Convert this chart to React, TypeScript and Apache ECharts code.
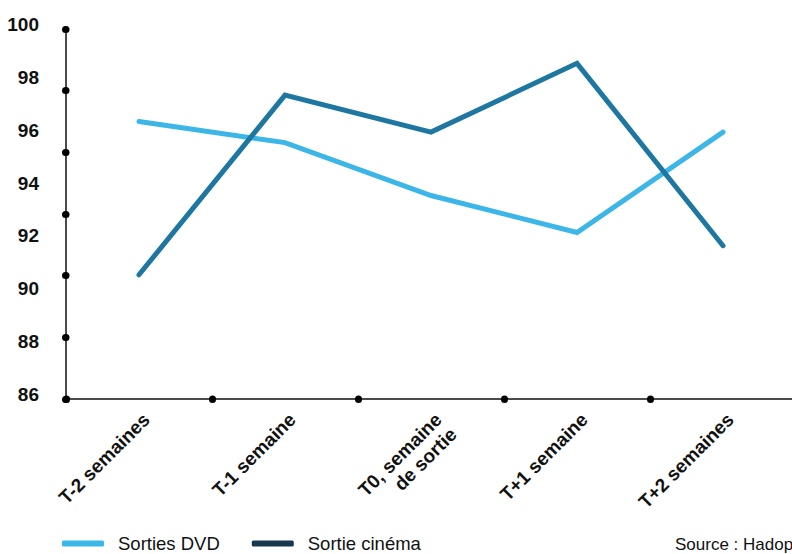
import React, { useEffect, useRef } from "react";
import * as echarts from "echarts";

const categories = ["T-2 semaines", "T-1 semaine", "T0, semaine\nde sortie", "T+1 semaine", "T+2 semaines"];
const dvdValues = [96.5, 95.7, 93.7, 92.3, 96.1];
const cinemaValues = [90.7, 97.5, 96.1, 98.7, 91.8];
const seriesNames = ["Sorties DVD", "Sortie cinéma"];
const sourceText = "Source : Hadopi";

const SANS = "'Liberation Sans', Arial, sans-serif";

export default function App() {
  const ref = useRef<HTMLDivElement>(null);
  useEffect(() => {
    if (!ref.current) return;
    const chart = echarts.init(ref.current, null, { renderer: "svg" });
    const dotTick = { show: true, length: 0.5, lineStyle: { color: "#000", width: 7, cap: "round" } };
    chart.setOption({
      animation: false,
      backgroundColor: "#fff",
      grid: { left: 66, top: 29, width: 730, bottom: 155, containLabel: false, outerBoundsMode: "none" },
      xAxis: {
        type: "category",
        data: categories,
        boundaryGap: true,
        axisLine: { show: true, lineStyle: { color: "#4a4a4a", width: 2 } },
        axisTick: { ...dotTick, interval: 0, alignWithLabel: false },
        axisLabel: {
          interval: 0,
          rotate: 45,
          margin: 10,
          fontSize: 19,
          fontWeight: "bold",
          fontFamily: SANS,
          color: "#111",
          lineHeight: 21,
          verticalAlign: "top",
        },
        splitLine: { show: false },
      },
      yAxis: [
        {
          type: "value",
          min: 86,
          max: 100,
          interval: 2,
          position: "left",
          axisLine: { show: false },
          axisTick: { show: false },
          splitLine: { show: false },
          axisLabel: {
            margin: 27,
            fontSize: 19,
            fontWeight: "bold",
            fontFamily: SANS,
            color: "#111",
            verticalAlign: "bottom",
            lineHeight: 9,
          },
        },
        {
          type: "value",
          min: 0,
          max: 6,
          interval: 1,
          position: "left",
          axisLine: { show: true, lineStyle: { color: "#4a4a4a", width: 2 } },
          axisTick: dotTick,
          axisLabel: { show: false },
          splitLine: { show: false },
        },
      ],
      legend: {
        left: 62,
        top: 534,
        padding: 0,
        icon: "roundRect",
        itemWidth: 42,
        itemHeight: 6,
        itemGap: 32,
        textStyle: { fontSize: 18.5, fontFamily: SANS, color: "#111", padding: [0, 0, 0, 9] },
        data: [
          { name: seriesNames[0], itemStyle: { color: "#3bb6e7" } },
          { name: seriesNames[1], itemStyle: { color: "#17384f" } },
        ],
      },
      graphic: [
        {
          type: "text",
          left: 675,
          top: 536,
          style: { text: sourceText, fontSize: 17, fontFamily: SANS, fill: "#111" },
        },
      ],
      series: [
        {
          name: seriesNames[0],
          type: "line",
          yAxisIndex: 0,
          data: dvdValues,
          symbol: "none",
          lineStyle: { color: "#3bb6e7", width: 5, cap: "round", join: "miter" },
          itemStyle: { color: "#3bb6e7" },
        },
        {
          name: seriesNames[1],
          type: "line",
          yAxisIndex: 0,
          data: cinemaValues,
          symbol: "none",
          lineStyle: { color: "#1e77a0", width: 5, cap: "round", join: "miter" },
          itemStyle: { color: "#1e77a0" },
        },
      ],
    });
    return () => chart.dispose();
  }, []);
  return <div ref={ref} style={{ position: "fixed", left: 0, top: 0, width: 792, height: 554 }} />;
}
